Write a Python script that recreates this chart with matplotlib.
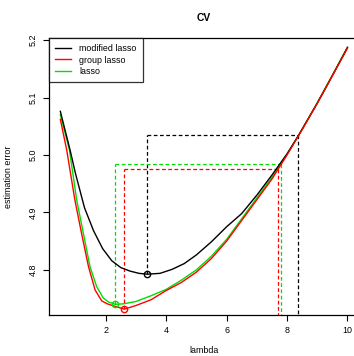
import numpy as np
import matplotlib.pyplot as plt

plt.rcParams['font.family'] = ['Liberation Sans', 'DejaVu Sans']

# cross-validation curves
lam_mod = [0.5, 0.82, 1.0, 1.3, 1.6, 1.9, 2.2, 2.5, 2.8, 3.1, 3.38, 3.8, 4.2, 4.6,
           5.0, 5.5, 6.0, 6.5, 7.0, 7.5, 8.0, 8.38, 9.0, 9.5, 10.0]
err_mod = [5.076, 5.009, 4.968, 4.908, 4.868, 4.837, 4.816, 4.804, 4.798, 4.794,
           4.7925, 4.794, 4.801, 4.811, 4.826, 4.849, 4.875, 4.898, 4.930, 4.965,
           5.002, 5.034, 5.090, 5.138, 5.187]

lam_grp = [0.5, 0.71, 0.98, 1.2, 1.43, 1.65, 1.87, 2.05, 2.25, 2.62, 3.0, 3.5, 4.0,
           4.5, 5.0, 5.5, 6.0, 6.5, 7.0, 7.5, 7.69, 8.0, 8.5, 9.0, 9.5, 10.0]
err_grp = [5.062, 5.009, 4.922, 4.864, 4.806, 4.765, 4.746, 4.741, 4.7375, 4.7317,
           4.738, 4.748, 4.764, 4.778, 4.796, 4.820, 4.850, 4.886, 4.922, 4.958,
           4.974, 5.000, 5.044, 5.090, 5.138, 5.186]

lam_las = [0.5, 0.8, 1.04, 1.26, 1.48, 1.7, 1.92, 2.1, 2.32, 2.6, 3.0, 3.5, 4.0,
           4.5, 5.0, 5.5, 6.0, 6.5, 7.0, 7.5, 7.79, 8.0, 8.5, 9.0, 9.5, 10.0]
err_las = [5.070, 5.009, 4.922, 4.864, 4.806, 4.771, 4.751, 4.744, 4.740, 4.741,
           4.745, 4.755, 4.766, 4.782, 4.800, 4.824, 4.853, 4.889, 4.925, 4.961,
           4.984, 5.001, 5.045, 5.091, 5.139, 5.188]

# minimum and one-se rule: (lambda_min, err_min, err_1se, lambda_1se)
rule_mod = (3.38, 4.7925, 5.035, 8.36)
rule_grp = (2.62, 4.7317, 4.976, 7.69)
rule_las = (2.32, 4.740, 4.984, 7.79)

names = ['modified lasso', 'group lasso', 'lasso']
colors = ['black', 'red', '#00dd00']
zorders = [2.2, 2.4, 2.0]


def draw_rule(ax, rule, col, ymin):
    lmin, emin, e1se, l1se = rule
    ls = (0, (3, 2))
    ax.plot([lmin, lmin], [emin, e1se], color=col, lw=0.9, ls=ls)
    ax.plot([lmin, l1se], [e1se, e1se], color=col, lw=0.9, ls=ls)
    ax.plot([l1se, l1se], [e1se, ymin], color=col, lw=0.9, ls=ls)
    ax.plot([lmin], [emin], 'o', mfc='none', mec=col, ms=4.5, mew=1.0, zorder=3)


fig = plt.figure(figsize=(3.54, 3.56), dpi=100)
ax = fig.add_axes([0.138, 0.116, 0.876, 0.777])

ymin, ymax = 4.722, 5.2035
series = [(lam_mod, err_mod), (lam_grp, err_grp), (lam_las, err_las)]
rules = [rule_mod, rule_grp, rule_las]
for (lx, ly), col, name, z in zip(series, colors, names, zorders):
    ax.plot(lx, ly, color=col, lw=1.0, label=name, zorder=z)
for rule, col in zip(rules, colors):
    draw_rule(ax, rule, col, ymin)

ax.set_xlim(0.12, 10.38)
ax.set_ylim(ymin, ymax)
ax.set_xticks([2, 4, 6, 8, 10])
ax.set_yticks([4.8, 4.9, 5.0, 5.1, 5.2])
ax.set_yticklabels(['4.8', '4.9', '5.0', '5.1', '5.2'], rotation=90, va='center')
ax.tick_params(labelsize=6.4, length=4, width=0.8, pad=4)
for s in ax.spines.values():
    s.set_linewidth(0.9)

ax.set_title('CV', fontsize=7.4, fontweight='bold', pad=12)
ax.set_xlabel('lambda', fontsize=6.4, labelpad=8)
ax.set_ylabel('estimation error', fontsize=6.4, labelpad=11)

leg = ax.legend(loc='upper left', fontsize=6.4, frameon=True, fancybox=False,
                edgecolor='black', borderaxespad=0, handlelength=1.8,
                handletextpad=0.9, borderpad=0.7, labelspacing=0.25)
leg.get_frame().set_linewidth(0.9)

plt.savefig('out.png', dpi=100)
